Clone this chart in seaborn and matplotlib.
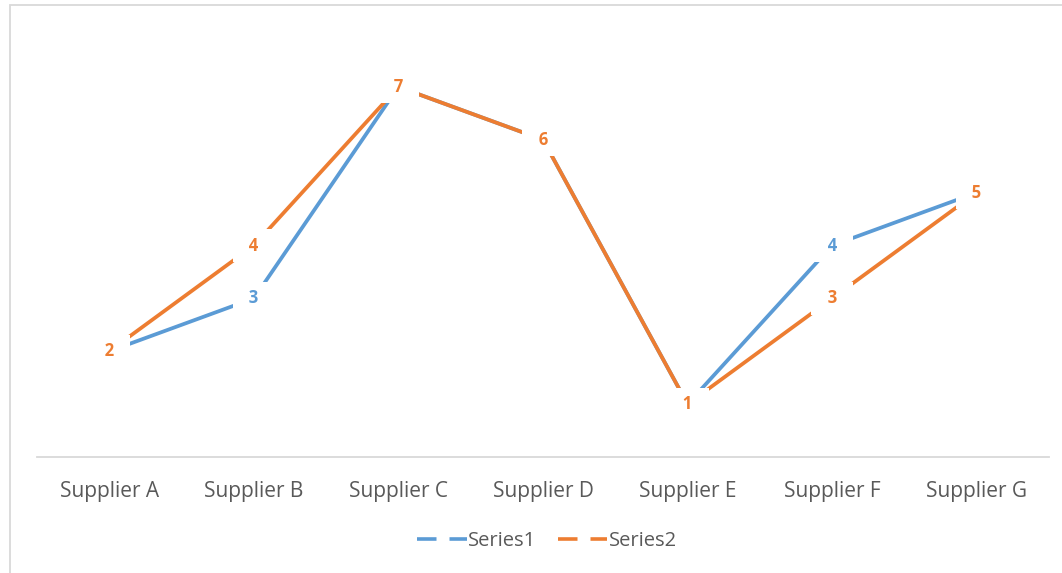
import matplotlib
matplotlib.use("Agg")
import matplotlib.pyplot as plt
from matplotlib.lines import Line2D
from matplotlib.patches import Rectangle
import pandas as pd
import seaborn as sns

suppliers = ["Supplier A", "Supplier B", "Supplier C", "Supplier D",
             "Supplier E", "Supplier F", "Supplier G"]
series1 = [2, 3, 7, 6, 1, 4, 5]
series2 = [2, 4, 7, 6, 1, 3, 5]
series_names = ["Series1", "Series2"]
colors = ["#5B9BD5", "#ED7D31"]

sns.set_theme(style="white")
plt.rcParams["font.family"] = ["Open Sans", "DejaVu Sans"]

df = pd.DataFrame({
    "supplier": suppliers * 2,
    "value": series1 + series2,
    "series": [series_names[0]] * len(suppliers) + [series_names[1]] * len(suppliers),
})

W, H = 1062, 573
fig = plt.figure(figsize=(W / 100, H / 100), dpi=100)
ax = fig.add_axes([37 / W, 1 - 457 / H, (1049 - 37) / W, (457 - 34) / H])

sns.lineplot(data=df, x="supplier", y="value", hue="series", palette=colors,
             linewidth=2.7, sort=False, legend=False, ax=ax,
             solid_capstyle="butt")

# value labels with a white box that interrupts the lines
for k, (vals, col) in enumerate(zip([series1, series2], colors)):
    for i, v in enumerate(vals):
        ax.text(i, v, f"  {v}  ", ha="center", va="center", color=col,
                fontsize=12, fontweight="bold", zorder=5 + k,
                bbox=dict(boxstyle="square,pad=0.45", fc="white", ec="none"))

ax.set_xlim(-0.5, len(suppliers) - 0.5)
ax.set_ylim(0, 8)
ax.set_yticks([])
ax.set_xlabel("")
ax.set_ylabel("")
for s in ["top", "left", "right"]:
    ax.spines[s].set_visible(False)
ax.spines["bottom"].set_color("#D9D9D9")
ax.spines["bottom"].set_linewidth(1.3)
ax.tick_params(axis="x", length=0, pad=17, labelsize=15, labelcolor="#595959")

handles = [Line2D([], [], color=c, lw=2.6, linestyle=(0, (5.4, 3.6)))
           for c in colors]
fig.legend(handles, series_names, loc="center", bbox_to_anchor=(547 / W, 1 - 541 / H),
           ncol=2, frameon=False, fontsize=14.5, labelcolor="#595959",
           handlelength=2.45, handletextpad=0.05, columnspacing=1.1)

# chart outline
fig.patches.append(Rectangle((9.5 / W, -0.1), 1.2, 1 - 5.5 / H + 0.1,
                             transform=fig.transFigure, fill=False,
                             ec="#D9D9D9", lw=1.3))

fig.savefig("out.png", dpi=100)
